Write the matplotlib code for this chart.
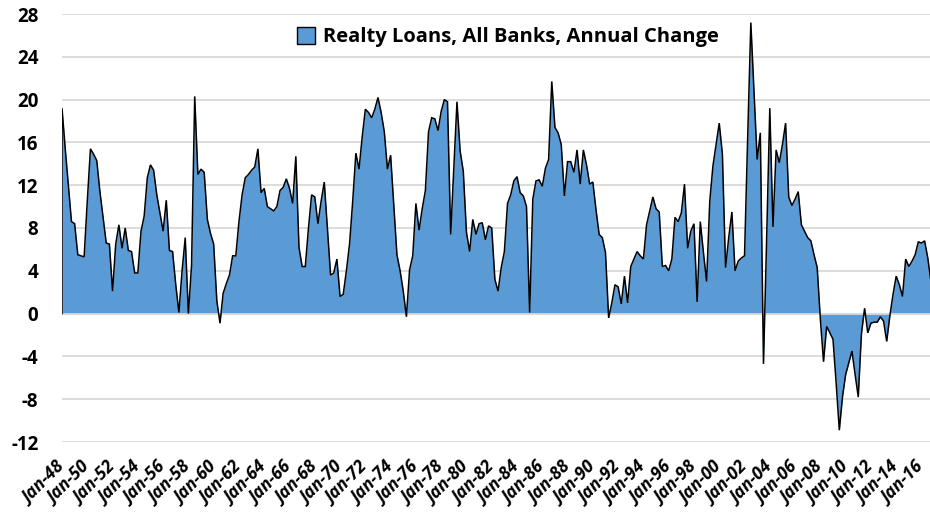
import numpy as np
import matplotlib
matplotlib.use("Agg")
import matplotlib.pyplot as plt
from matplotlib.patches import Patch
from matplotlib.transforms import ScaledTranslation

# Quarterly annual % change in realty loans, all banks, Q1 1948 onward
years_start = 1948
label_step = 8  # one label every two years (8 quarters)

annual_change = [
    19.2, 15.5, 12.0, 8.6, 8.4, 5.5, 5.4, 5.3, 10.5, 15.4,
    14.9, 14.3, 11.4, 9.0, 6.6, 6.5, 2.1, 6.5, 8.3, 6.1,
    8.0, 5.9, 5.8, 3.8, 3.8, 7.7, 9.1, 12.7, 13.9, 13.4,
    11.1, 9.4, 7.7, 10.6, 5.9, 5.8, 2.7, 0.1, 4.0, 7.1,
    0.0, 4.5, 20.3, 13.0, 13.5, 13.2, 8.8, 7.5, 6.5, 1.2,
    -0.9, 1.9, 2.8, 3.6, 5.4, 5.4, 8.6, 11.1, 12.7, 13.0,
    13.4, 13.7, 15.4, 11.3, 11.7, 10.0, 9.8, 9.6, 10.0, 11.5,
    11.8, 12.6, 11.7, 10.3, 14.7, 6.2, 4.4, 4.4, 8.0, 11.1,
    10.9, 8.4, 10.5, 12.3, 7.9, 3.6, 3.8, 5.1, 1.6, 1.8,
    4.0, 6.5, 10.5, 15.0, 13.5, 16.5, 19.1, 18.8, 18.3, 19.1,
    20.2, 18.8, 17.0, 13.5, 14.8, 10.2, 5.5, 4.0, 2.1, -0.3,
    4.1, 5.4, 10.3, 7.8, 9.8, 11.5, 17.0, 18.3, 18.2, 17.1,
    18.9, 20.0, 19.8, 7.4, 13.5, 19.8, 15.2, 13.3, 7.6, 5.8,
    8.8, 7.4, 8.4, 8.5, 6.9, 8.2, 8.0, 3.2, 2.1, 4.3,
    5.8, 10.3, 11.1, 12.4, 12.8, 11.3, 11.0, 10.0, 0.1, 10.7,
    12.4, 12.5, 11.9, 13.6, 14.4, 21.7, 17.4, 16.9, 15.8, 11.0,
    14.2, 14.2, 13.2, 15.3, 12.1, 15.3, 13.9, 12.1, 12.3, 9.7,
    7.4, 7.1, 5.7, -0.4, 1.0, 2.7, 2.5, 0.9, 3.5, 1.0,
    4.4, 5.1, 5.8, 5.4, 5.1, 8.3, 9.6, 10.9, 9.8, 9.5,
    4.4, 4.5, 4.0, 5.1, 9.0, 8.6, 9.4, 12.1, 6.1, 7.7,
    8.4, 1.1, 8.6, 5.7, 3.0, 10.5, 13.8, 15.8, 17.8, 14.9,
    4.3, 7.1, 9.5, 4.0, 4.9, 5.2, 5.4, 16.5, 27.2, 20.7,
    14.4, 16.9, -4.7, 7.0, 19.2, 8.1, 15.3, 14.1, 15.8, 17.8,
    10.9, 10.1, 10.7, 11.4, 8.3, 7.7, 7.1, 6.8, 5.5, 4.3,
    -0.5, -4.5, -1.2, -1.8, -2.4, -6.5, -10.9, -7.8, -5.7, -4.6,
    -3.5, -5.7, -7.8, -1.9, 0.5, -1.8, -0.9, -0.8, -0.8, -0.3,
    -0.7, -2.6, -0.2, 1.8, 3.5, 2.7, 1.6, 5.1, 4.4, 4.9,
    5.5, 6.7, 6.6, 6.8, 5.2, 3.0,
]

y_ticks = list(range(-12, 29, 4))
series_label = "Realty Loans, All Banks, Annual Change"

values = np.array(annual_change)
idx = np.arange(len(values))
tick_pos = idx[::label_step]
tick_labels = [f"Jan-{(years_start + p // 4) % 100:02d}" for p in tick_pos]

fill_color = "#5B9BD5"
grid_color = "#D9D9D9"
font = ["Open Sans", "DejaVu Sans"]

fig = plt.figure(figsize=(9.30, 5.29), dpi=100)
ax = fig.add_axes([62 / 930, 1 - 442 / 529, 1 - 62 / 930, (442 - 14) / 529])

ax.set_ylim(-12, 28)
ax.set_xlim(0, len(values) - 1.3)

for yv in y_ticks:
    ax.axhline(yv, color=grid_color, lw=1.3, zorder=0)

ax.fill_between(idx, 0, values, color=fill_color, lw=0, zorder=1)
ax.axhline(0, color=grid_color, lw=1.3, zorder=2)
ax.plot(np.r_[0, idx], np.r_[0, values], color="black", lw=1.1, zorder=3,
        solid_joinstyle="miter")

for s in ax.spines.values():
    s.set_visible(False)

ax.set_yticks(y_ticks)
ax.set_yticklabels([str(v) for v in y_ticks], fontsize=13.5, fontweight="bold",
                   family=font)
ax.tick_params(axis="y", length=0, pad=17)

ax.set_xticks(tick_pos)
ax.set_xticklabels(tick_labels, rotation=45, ha="right", va="top",
                   rotation_mode="anchor", fontsize=12.5, fontweight="bold",
                   fontstyle="italic", family=font)
ax.tick_params(axis="x", length=0, pad=12)
shift = ScaledTranslation(-6 / 100, 0, fig.dpi_scale_trans)
for lbl in ax.get_xticklabels():
    lbl.set_transform(lbl.get_transform() + shift)

handle = Patch(facecolor=fill_color, edgecolor="black", lw=1.0)
fig.legend([handle], [series_label], loc="center", bbox_to_anchor=(508 / 930, 1 - 37 / 529),
           frameon=False, prop={"family": font, "weight": "bold", "size": 14.5},
           handlelength=0.9, handleheight=0.9, handletextpad=0.4)

fig.savefig("out.png", dpi=100)
